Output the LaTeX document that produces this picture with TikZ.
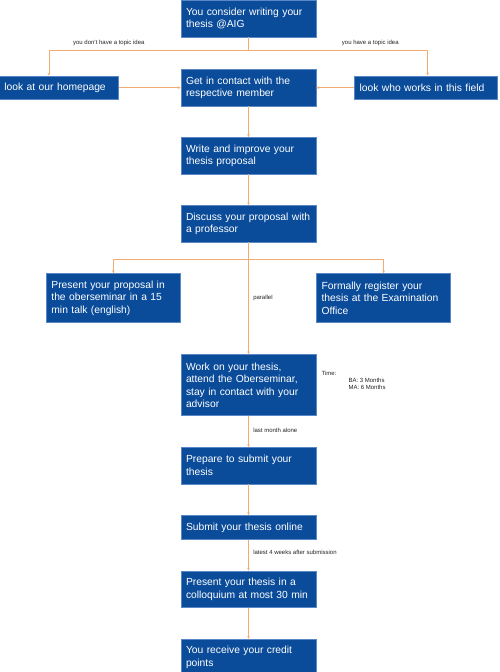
\documentclass[tikz,border=0pt]{standalone}
\usepackage{fontspec}
\setmainfont{Liberation Sans}
\usetikzlibrary{arrows.meta, positioning, calc}
\usepackage{xcolor}
\definecolor{aigblue}{HTML}{0B4C9A}
\definecolor{aigborder}{HTML}{5A88C6}
\definecolor{aigorange}{HTML}{F2AC72}
\definecolor{aigtext}{HTML}{222222}

\begin{document}
\begin{tikzpicture}[
    node distance=31pt,
    stepbox/.style={
        rectangle,
        draw=aigborder,
        line width=0.6pt,
        fill=aigblue,
        text=white,
        align=left,
        text width=125pt,
        inner xsep=5pt,
        inner ysep=0pt,
        minimum height=#1,
        font=\fontsize{10.3}{12.5}\selectfont
    },
    stepbox/.default=36.5pt,
    link/.style={
        draw=aigorange,
        line width=0.6pt
    },
    arrow/.style={
        -{Stealth[length=3pt, width=2.6pt]},
        draw=aigorange,
        line width=0.6pt
    },
    note/.style={
        font=\fontsize{6}{7}\selectfont,
        text=aigtext,
        inner sep=1pt
    }
]

\useasboundingbox (0,0) rectangle (500pt,-672pt);

% Main column
\node[stepbox, anchor=north] (top) at (248.5pt,0) {You consider writing your\\thesis @AIG};
\node[stepbox, below=32pt of top] (contact) {Get in contact with the\\respective member};
\node[stepbox, below=of contact] (write) {Write and improve your\\thesis proposal};
\node[stepbox, below=of write] (discuss) {Discuss your proposal with\\a professor};
\node[stepbox=61pt, below=112pt of discuss] (work) {Work on your thesis,\\attend the Oberseminar,\\stay in contact with your\\advisor};
\node[stepbox, below=of work] (prepare) {Prepare to submit your\\thesis};
\node[stepbox=24pt, below=of prepare] (submit) {Submit your thesis online};
\node[stepbox, below=of submit] (colloquium) {Present your thesis in a\\colloquium at most 30 min};
\node[stepbox, below=of colloquium] (credits) {You receive your credit\\points};

% Side boxes
\node[stepbox=23.5pt, text width=109pt, left=62pt of contact] (homepage) {look at our homepage};
\node[stepbox=23.5pt, text width=133pt, right=38pt of contact] (members) {look who works in this field};
\node[stepbox=49pt, text width=124pt, below=31pt of discuss.south west, anchor=north east] (talk) {Present your proposal in\\the oberseminar in a 15\\min talk (english)};
\node[stepbox=49pt, text width=124pt, below=31pt of discuss.south east, anchor=north west] (register) {Formally register your\\thesis at the Examination\\Office};

% Branch points
\coordinate (split1) at ($(top.south)+(0,-13pt)$);
\coordinate (split2) at ($(discuss.south)+(0,-17pt)$);

% Arrows
\draw[link] (top.south) -- (split1);
\draw[arrow] (split1) -| node[note, above=3pt, pos=0.35] {you don't have a topic idea} ([xshift=-10pt]homepage.north);
\draw[arrow] (split1) -| node[note, above=3pt, pos=0.34] {you have a topic idea} ([xshift=1.5pt]members.north);
\draw[arrow] (homepage) -- (contact);
\draw[arrow] (members) -- (contact);
\draw[arrow] (contact) -- (write);
\draw[arrow] (write) -- (discuss);
\draw[arrow] (split2) -| (talk.north);
\draw[arrow] (split2) -| (register.north);
\draw[arrow] (discuss) -- node[note, right=3.5pt, pos=0.5] {parallel} (work);
\draw[arrow] (work) -- node[note, right=3.5pt, pos=0.45] {last month alone} (prepare);
\draw[arrow] (prepare) -- (submit);
\draw[arrow] (submit) -- node[note, right=3.5pt, pos=0.4] {latest 4 weeks after submission} (colloquium);
\draw[arrow] (colloquium) -- (credits);

% Duration note
\node[note, anchor=west] (time) at ($(work.north east)+(4pt,-19pt)$) {Time:};
\node[note, align=left, anchor=north west] (months) at ($(work.north east)+(31pt,-22.5pt)$) {BA: 3 Months\\MA: 6 Months};

\end{tikzpicture}
\end{document}
